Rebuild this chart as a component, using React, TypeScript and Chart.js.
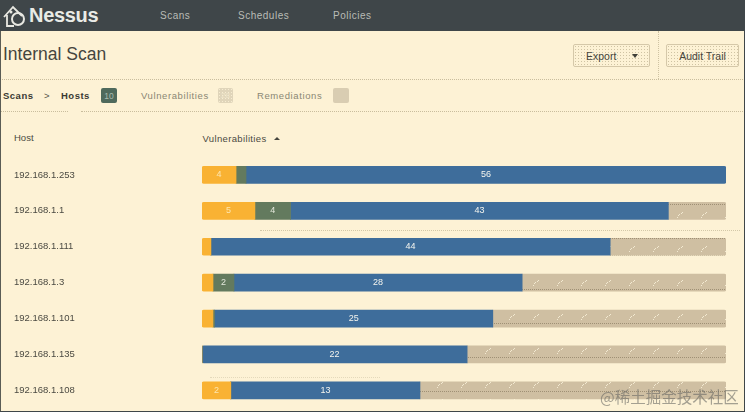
import React, { useEffect, useRef } from "react";
import { Chart, registerables } from "chart.js";

Chart.register(...registerables);

const hosts = ["192.168.1.253", "192.168.1.1", "192.168.1.111", "192.168.1.3", "192.168.1.101", "192.168.1.135", "192.168.1.108"];
// Segment lengths as a share of the row (%)
const orangeShare = [6.5, 10.1, 1.7, 2.1, 2.1, 0, 5.5];
const greenShare = [1.9, 6.8, 0, 4.0, 0.3, 0, 0];
const blueShare = [91.6, 72.1, 76.2, 55.0, 53.1, 50.6, 36.1];
const restShare = [0, 11.0, 22.1, 38.9, 44.5, 49.4, 58.4];
// Numbers printed on the segments
const orangeText = ["4", "5", "", "", "", "", "2"];
const greenText = ["", "4", "", "2", "", "", ""];
const blueText = ["56", "43", "44", "28", "25", "22", "13"];

const FONT = '"Liberation Sans", Arial, sans-serif';

const segmentText = {
  id: "segmentText",
  afterDatasetsDraw(chart: any) {
    const { ctx } = chart;
    ctx.save();
    ctx.textAlign = "center";
    ctx.textBaseline = "middle";
    ctx.font = `9px ${FONT}`;
    chart.data.datasets.forEach((ds: any, i: number) => {
      if (!ds.segmentLabels) return;
      chart.getDatasetMeta(i).data.forEach((bar: any, j: number) => {
        const t = ds.segmentLabels[j];
        if (!t) return;
        ctx.fillStyle = ds.segmentLabelColor;
        ctx.fillText(t, (bar.base + bar.x) / 2, bar.y);
      });
    });
    ctx.restore();
  },
};

function tanPattern(): CanvasPattern | string {
  const c = document.createElement("canvas");
  c.width = 24;
  c.height = 17;
  const x = c.getContext("2d");
  if (!x) return "#cfbfa2";
  x.fillStyle = "#cfbfa2";
  x.fillRect(0, 0, 24, 17);
  x.fillStyle = "rgba(255,248,225,0.75)";
  [[6, 11], [7, 10], [9, 9], [10, 8], [5, 13]].forEach(([a, b]) => x.fillRect(a, b, 1, 1));
  x.fillStyle = "rgba(120,105,80,0.55)";
  for (let i = 0; i < 24; i += 2) x.fillRect(i, 0, 1, 1);
  return x.createPattern(c, "repeat") || "#cfbfa2";
}

const shares = [orangeShare, greenShare, blueShare, restShare];
const radius = (series: number) => (ctx: any) => {
  const row = ctx.dataIndex;
  const present = shares.map((s, i) => (s[row] > 0 ? i : -1)).filter((i) => i >= 0);
  const r = 2;
  return {
    topLeft: present[0] === series ? r : 0,
    bottomLeft: present[0] === series ? r : 0,
    topRight: present[present.length - 1] === series ? r : 0,
    bottomRight: present[present.length - 1] === series ? r : 0,
  };
};

const dots = (color: string, size = 2) => ({
  backgroundImage: `radial-gradient(${color} 0.6px, transparent 0.7px)`,
  backgroundSize: `${size}px ${size}px`,
});

function T({ x, y, children, style }: any) {
  return (
    <div style={{ position: "absolute", left: x, top: y, whiteSpace: "nowrap", lineHeight: 1, transform: "translateY(-50%)", ...style }}>
      {children}
    </div>
  );
}

function HLine({ x, y, w, color = "#c9bd9d" }: any) {
  return <div style={{ position: "absolute", left: x, top: y, width: w, height: 0, borderTop: `1px dotted ${color}` }} />;
}

export default function App() {
  const ref = useRef<HTMLCanvasElement>(null);

  useEffect(() => {
    document.body.style.margin = "0";
    const chart = new Chart(ref.current as HTMLCanvasElement, {
      type: "bar",
      plugins: [segmentText],
      data: {
        labels: hosts,
        datasets: [
          { label: "Orange", data: orangeShare, backgroundColor: "#f9b233", borderRadius: radius(0), segmentLabels: orangeText, segmentLabelColor: "#fde6b0" },
          { label: "Green", data: greenShare, backgroundColor: "#637a5e", borderRadius: radius(1), segmentLabels: greenText, segmentLabelColor: "#e4e8dc" },
          { label: "Blue", data: blueShare, backgroundColor: "#3e6d9b", borderRadius: radius(2), segmentLabels: blueText, segmentLabelColor: "#f4f4ee" },
          { label: "Rest", data: restShare, backgroundColor: tanPattern(), borderRadius: radius(3) },
        ] as any,
      },
      options: {
        animation: false,
        responsive: false,
        indexAxis: "y",
        layout: { padding: { left: 14, right: 19, top: 157, bottom: 0 } },
        datasets: { bar: { barThickness: 17, borderSkipped: false } } as any,
        plugins: { legend: { display: false }, tooltip: { enabled: false } },
        scales: {
          x: { stacked: true, display: false, min: 0, max: 100 },
          y: {
            stacked: true,
            grid: { display: false },
            border: { display: false },
            afterFit: (axis: any) => { axis.width = 188; },
            ticks: { crossAlign: "far", padding: 0, color: "#4b4a42", font: { family: FONT, size: 9.5 } },
          },
        },
      },
    } as any);
    return () => chart.destroy();
  }, []);

  const nav = { color: "#b9bcb6", fontSize: 10, letterSpacing: 0.5, fontFamily: FONT };
  const crumb = { color: "#8a8774", fontSize: 9.5, letterSpacing: 0.6, fontFamily: FONT };
  const crumbBold = { color: "#3a3a34", fontSize: 9.5, fontWeight: 700, letterSpacing: 0.5, fontFamily: FONT };
  const button: any = {
    position: "absolute", top: 44, height: 23, boxSizing: "border-box", border: "1px solid #d5c8a9", borderRadius: 2,
    ...dots("#cfc3a3", 3), color: "#47463e", fontSize: 10.5, fontFamily: FONT,
    display: "flex", alignItems: "center", justifyContent: "center",
  };
  const badge: any = { position: "absolute", top: 88, height: 15, width: 16, borderRadius: 2 };

  return (
    <div style={{ position: "fixed", left: 0, top: 0, width: 745, height: 412, overflow: "hidden", background: "#fdf2d5", fontFamily: FONT }}>
      <div style={{ position: "absolute", left: 0, top: 0, width: 745, height: 31, background: "#3f4649", ...dots("#59605f", 2) }} />
      <div style={{ position: "absolute", left: 0, top: 0, width: 745, height: 4, background: "#3f4649" }} />
      <svg style={{ position: "absolute", left: 2, top: 3 }} width="26" height="26" viewBox="0 0 26 26">
        <path d="M2 14 L11 4 L20 13 M5 12 V23 H12" fill="none" stroke="#e8e8e2" strokeWidth="1.8" />
        <circle cx="16" cy="16" r="6" fill="none" stroke="#e8e8e2" strokeWidth="2" />
        <circle cx="9" cy="9" r="1.5" fill="#e8e8e2" />
      </svg>
      <T x={29} y={15} style={{ color: "#e9ebe6", fontSize: 20, fontWeight: 700, letterSpacing: -0.3 }}>Nessus</T>
      <T x={160} y={15.5} style={nav}>Scans</T>
      <T x={238} y={15.5} style={nav}>Schedules</T>
      <T x={333} y={15.5} style={nav}>Policies</T>

      <T x={3} y={55} style={{ color: "#45453e", fontSize: 17.5 }}>Internal Scan</T>
      <div style={{ ...button, left: 573, width: 77, justifyContent: "flex-start", paddingLeft: 12 }}>
        Export
        <span style={{ marginLeft: 16, width: 0, height: 0, borderLeft: "3.5px solid transparent", borderRight: "3.5px solid transparent", borderTop: "4px solid #3f3f38" }} />
      </div>
      <div style={{ ...button, left: 666, width: 73 }}>Audit Trail</div>
      <div style={{ position: "absolute", left: 658, top: 31, height: 48, width: 0, borderLeft: "1px dotted #cfc3a3" }} />

      <HLine x={0} y={79} w={745} />
      <HLine x={0} y={111} w={68} />
      <HLine x={81} y={111} w={664} />
      <div style={{ position: "absolute", left: 0, top: 80, width: 745, height: 31, ...dots("#f8ecce", 2) }} />

      <T x={3} y={95.5} style={crumbBold}>Scans</T>
      <T x={44} y={95.5} style={{ ...crumb, color: "#55544a" }}>&gt;</T>
      <T x={61} y={95.5} style={crumbBold}>Hosts</T>
      <div style={{ ...badge, left: 101, background: "#4f6a5c" }} />
      <T x={109} y={96} style={{ color: "#a9bab0", fontSize: 8.5, transform: "translate(-50%,-50%)" }}>10</T>
      <T x={141} y={95.5} style={crumb}>Vulnerabilities</T>
      <div style={{ ...badge, left: 218, width: 15, background: "#e0d5ba", ...dots("#f7edd2", 3) }} />
      <T x={225.5} y={96} style={{ color: "#efe5ca", fontSize: 8, transform: "translate(-50%,-50%)" }}>28</T>
      <T x={257} y={95.5} style={crumb}>Remediations</T>
      <div style={{ ...badge, left: 333, background: "#d9cdb2", ...dots("#f7edd2", 2) }} />

      <T x={14} y={138} style={{ color: "#4b4a42", fontSize: 9.5 }}>Host</T>
      <T x={202.5} y={138.5} style={{ color: "#4b4a42", fontSize: 9.5, letterSpacing: 0.35 }}>Vulnerabilities</T>
      <div style={{ position: "absolute", left: 274, top: 137, width: 0, height: 0, borderLeft: "3px solid transparent", borderRight: "3px solid transparent", borderBottom: "3px solid #45453e" }} />

      <canvas ref={ref} width={745} height={414} style={{ position: "absolute", left: 0, top: 0, display: "block" }} />

      <HLine x={260} y={230} w={480} color="#d3c8a8" />
      <HLine x={210} y={377} w={170} color="#e4d9bb" />

      <T x={600} y={397} style={{ color: "rgba(105,105,100,0.6)", fontSize: 15.5, fontFamily: '"Noto Sans CJK SC", sans-serif' }}>@稀土掘金技术社区</T>

      <div style={{ position: "absolute", right: 0, top: 31, width: 1, bottom: 0, background: "#3f4649" }} />
      <div style={{ position: "absolute", left: 0, top: 31, width: 1, bottom: 0, background: "#5a5c55" }} />
      <div style={{ position: "absolute", left: 0, right: 0, height: 1, bottom: 0, background: "#3f4649" }} />
    </div>
  );
}
